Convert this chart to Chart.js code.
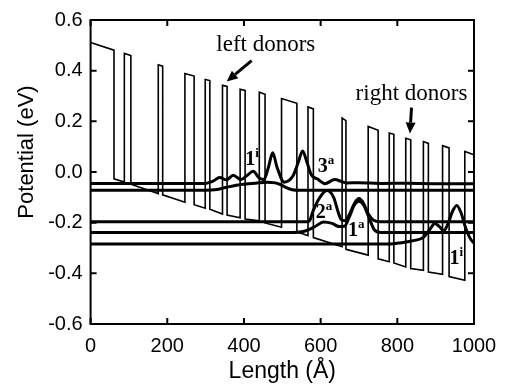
<!DOCTYPE html>
<html>
<head>
<meta charset="utf-8">
<script src="https://cdn.jsdelivr.net/npm/chart.js@4/dist/chart.umd.min.js"></script>
<style>
  html, body { margin: 0; padding: 0; background: #fff; }
</style>
</head>
<body>
<canvas id="chart" width="509" height="385"></canvas>
<script>
// conduction band profile, vertices of the polyline (Å, eV)
const potentialX = [0, 61, 61, 88, 88, 105, 105, 176.5, 176.5, 188, 188, 246, 246, 270, 270,
  299, 299, 311, 311, 344, 344, 356, 356, 390, 390, 403, 403, 440, 440, 455, 455,
  498, 498, 538, 538, 567, 567, 581, 581, 656, 656, 666, 666, 724, 724, 750, 750,
  779, 779, 791, 791, 822, 822, 835, 835, 868, 868, 881, 881, 918, 918, 935, 935,
  976, 976, 1000];
const potentialY = [0.511, 0.481, -0.027, -0.040, 0.468, 0.460, -0.048, -0.085, 0.423, 0.418, -0.090, -0.119, 0.389, 0.379, -0.129,
  -0.143, 0.365, 0.361, -0.147, -0.166, 0.342, 0.338, -0.170, -0.181, 0.327, 0.322, -0.186, -0.193, 0.315, 0.307, -0.201,
  -0.218, 0.290, 0.271, -0.237, -0.251, 0.257, 0.249, -0.259, -0.295, 0.213, 0.203, -0.305, -0.328, 0.180, 0.165, -0.343,
  -0.354, 0.154, 0.149, -0.359, -0.375, 0.133, 0.127, -0.381, -0.388, 0.120, 0.113, -0.395, -0.404, 0.104, 0.095, -0.413,
  -0.427, 0.081, 0.068];

// wavefunctions, each sitting on its own energy level
const psi3aX = [0, 300, 318, 337, 354, 372, 392, 408, 424, 440, 452, 464, 475, 486, 505, 528, 542, 553, 564, 576, 592, 611, 637, 655, 668, 700, 760, 830, 900, 1000];
const psi3aY = [-0.045, -0.045, -0.037, -0.022, -0.031, -0.013, -0.030, -0.014, 0.003, -0.024, -0.030, 0.020, 0.076, 0.020, -0.040, -0.015, 0.040, 0.083, 0.040, -0.012, -0.028, -0.046, -0.030, -0.038, -0.043, -0.042, -0.045, -0.044, -0.046, -0.046];

const psi1iLeftX = [0, 300, 330, 355, 380, 405, 430, 460, 482, 498, 512, 526, 545, 1000];
const psi1iLeftY = [-0.072, -0.072, -0.069, -0.060, -0.052, -0.047, -0.044, -0.040, -0.043, -0.052, -0.063, -0.070, -0.072, -0.072];

const psi2aX = [0, 565, 572, 580, 598, 616, 634, 645, 654, 664, 676, 688, 700, 712, 724, 738, 756, 1000];
const psi2aY = [-0.196, -0.196, -0.190, -0.155, -0.100, -0.073, -0.100, -0.155, -0.188, -0.192, -0.165, -0.124, -0.105, -0.124, -0.165, -0.190, -0.196, -0.196];

const psi1aX = [0, 530, 560, 585, 608, 630, 648, 662, 674, 688, 700, 712, 726, 740, 758, 1000];
const psi1aY = [-0.239, -0.239, -0.233, -0.216, -0.197, -0.203, -0.215, -0.214, -0.180, -0.130, -0.115, -0.130, -0.180, -0.228, -0.239, -0.239];

const psi1iRightX = [0, 780, 810, 842, 868, 885, 898, 910, 921, 932, 944, 955, 966, 978, 990, 1000];
const psi1iRightY = [-0.284, -0.284, -0.279, -0.271, -0.258, -0.226, -0.203, -0.216, -0.232, -0.205, -0.155, -0.132, -0.160, -0.220, -0.262, -0.281];

const xTicks = [0, 200, 400, 600, 800, 1000];
const yTicks = [-0.6, -0.4, -0.2, 0, 0.2, 0.4, 0.6];

// state labels (digit + superscript)
const stateBase = ['1', '3', '2', '1', '1'];
const stateSup = ['i', 'a', 'a', 'a', 'i'];
const stateX = [421, 614, 609, 693, 954];
const stateY = [0.057, 0.026, -0.152, -0.224, -0.335];

// donor labels and arrows
const donorText = ['left donors', 'right donors'];
const donorX = [457, 837];
const donorY = [0.503, 0.307];
const arrowFrom = [[420, 0.44], [837, 0.254]];
const arrowTo = [[355, 0.357], [833, 0.152]];

const toPoints = (xs, ys) => xs.map((x, i) => ({ x: x, y: ys[i] }));

function waveSet(xs, ys) {
    return {
        data: toPoints(xs, ys),
        borderColor: '#000',
        borderWidth: 3,
        cubicInterpolationMode: 'monotone',
        pointRadius: 0
    };
}

// frame with inward ticks on all four sides, plus the rotated y title
const framePlugin = {
    id: 'frame',
    afterDraw(chart) {
        const { ctx, chartArea: a } = chart;
        const sx = chart.scales.x, sy = chart.scales.y;
        const len = 6;
        ctx.save();
        ctx.strokeStyle = '#000';
        ctx.lineWidth = 2;
        ctx.strokeRect(a.left, a.top, a.right - a.left, a.bottom - a.top);
        ctx.beginPath();
        xTicks.forEach(v => {
            const x = sx.getPixelForValue(v);
            ctx.moveTo(x, a.bottom); ctx.lineTo(x, a.bottom - len);
            ctx.moveTo(x, a.top); ctx.lineTo(x, a.top + len);
        });
        yTicks.forEach(v => {
            const y = sy.getPixelForValue(v);
            ctx.moveTo(a.left, y); ctx.lineTo(a.left + len, y);
            ctx.moveTo(a.right, y); ctx.lineTo(a.right - len, y);
        });
        ctx.stroke();

        ctx.fillStyle = '#000';
        ctx.font = '22px "Liberation Sans"';
        ctx.textAlign = 'center';
        ctx.textBaseline = 'middle';
        ctx.translate(27, 152);
        ctx.rotate(-Math.PI / 2);
        ctx.fillText('Potential (eV)', 0, 0);
        ctx.restore();
    }
};

// state labels, donor labels and arrows
const notePlugin = {
    id: 'notes',
    afterDatasetsDraw(chart) {
        const { ctx } = chart;
        const sx = chart.scales.x, sy = chart.scales.y;
        ctx.save();
        ctx.fillStyle = '#000';
        ctx.strokeStyle = '#000';
        ctx.textBaseline = 'alphabetic';

        stateBase.forEach((b, i) => {
            const cx = sx.getPixelForValue(stateX[i]);
            const cy = sy.getPixelForValue(stateY[i]);
            ctx.font = 'bold 20px "Liberation Serif"';
            const wb = ctx.measureText(b).width;
            ctx.font = 'bold 13px "Liberation Serif"';
            const ws = ctx.measureText(stateSup[i]).width;
            const left = cx - (wb + ws) / 2;
            ctx.textAlign = 'left';
            ctx.font = 'bold 20px "Liberation Serif"';
            ctx.fillText(b, left, cy + 7);
            ctx.font = 'bold 13px "Liberation Serif"';
            ctx.fillText(stateSup[i], left + wb, cy - 1);
        });

        ctx.font = '23px "Liberation Serif"';
        ctx.textAlign = 'center';
        ctx.textBaseline = 'middle';
        donorText.forEach((t, i) => {
            ctx.fillText(t, sx.getPixelForValue(donorX[i]), sy.getPixelForValue(donorY[i]));
        });

        arrowFrom.forEach((f, i) => {
            const x0 = sx.getPixelForValue(f[0]), y0 = sy.getPixelForValue(f[1]);
            const x1 = sx.getPixelForValue(arrowTo[i][0]), y1 = sy.getPixelForValue(arrowTo[i][1]);
            const ang = Math.atan2(y1 - y0, x1 - x0);
            const head = 11, half = 5;
            const bx = x1 - head * Math.cos(ang), by = y1 - head * Math.sin(ang);
            ctx.lineWidth = 3;
            ctx.beginPath();
            ctx.moveTo(x0, y0);
            ctx.lineTo(bx, by);
            ctx.stroke();
            ctx.beginPath();
            ctx.moveTo(x1, y1);
            ctx.lineTo(bx + half * Math.sin(ang), by - half * Math.cos(ang));
            ctx.lineTo(bx - half * Math.sin(ang), by + half * Math.cos(ang));
            ctx.closePath();
            ctx.fill();
        });
        ctx.restore();
    }
};

const axisFont = { family: 'Liberation Sans', size: 20 };

new Chart(document.getElementById('chart').getContext('2d'), {
    type: 'line',
    data: {
        datasets: [
            {
                data: toPoints(potentialX, potentialY),
                borderColor: '#000',
                borderWidth: 1.6,
                tension: 0,
                pointRadius: 0
            },
            waveSet(psi3aX, psi3aY),
            waveSet(psi1iLeftX, psi1iLeftY),
            waveSet(psi2aX, psi2aY),
            waveSet(psi1aX, psi1aY),
            waveSet(psi1iRightX, psi1iRightY)
        ]
    },
    options: {
        responsive: false,
        animation: false,
        devicePixelRatio: 1,
        layout: { padding: { top: 12, right: 35, left: 0, bottom: 0 } },
        plugins: { legend: { display: false }, tooltip: { enabled: false } },
        scales: {
            x: {
                type: 'linear',
                min: 0,
                max: 1000,
                afterBuildTicks: s => { s.ticks = xTicks.map(v => ({ value: v })); },
                afterFit: s => { s.height = 61; },
                grid: { display: false, drawTicks: false },
                border: { display: false },
                ticks: { font: axisFont, color: '#000', padding: 10, maxRotation: 0, callback: v => String(v) },
                title: {
                    display: true,
                    text: 'Length (Å)',
                    font: { family: 'Liberation Sans', size: 23 },
                    color: '#000',
                    padding: { top: 0, bottom: 0 }
                }
            },
            y: {
                type: 'linear',
                min: -0.6,
                max: 0.6,
                afterBuildTicks: s => { s.ticks = yTicks.map(v => ({ value: v })); },
                afterFit: s => { s.width = 90.6; },
                grid: { display: false, drawTicks: false },
                border: { display: false },
                ticks: {
                    font: axisFont,
                    color: '#000',
                    padding: 8,
                    callback: v => v.toFixed(1)
                }
            }
        }
    },
    plugins: [framePlugin, notePlugin]
});
</script>
</body>
</html>
